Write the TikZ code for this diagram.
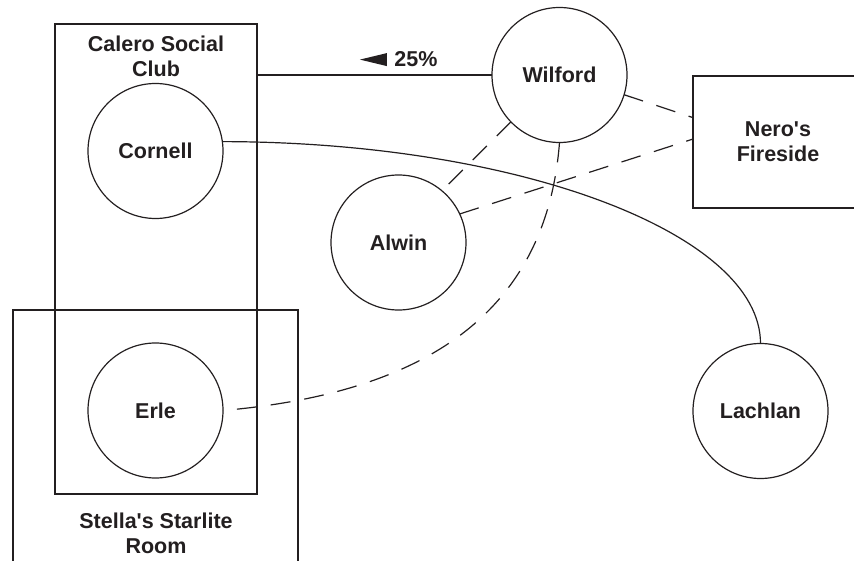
\documentclass[tikz,border=0pt]{standalone}
\usepackage{fontspec}
\setmainfont{Liberation Sans}
\usepackage{tikz}
\usetikzlibrary{positioning}
\definecolor{ink}{HTML}{231F20}

\tikzset{
  person/.style={circle, draw=ink, text=ink, minimum size=135pt, inner sep=0pt, outer sep=0pt},
  venue/.style={rectangle, draw=ink, text=ink, inner sep=0pt, outer sep=0pt, anchor=north west},
  venuename/.style={align=center, text=ink, inner sep=0pt},
  link/.style={draw=ink, dash pattern=on 20pt off 14pt}
}

\begin{document}
\begin{tikzpicture}[x=1pt, y=-1pt, line width=1.2pt, font=\fontsize{21.5}{25}\selectfont\bfseries]

\useasboundingbox (0,0) rectangle (854,561);
\clip (0,0) rectangle (854,561);

% rooms
\node at (55,24)[venue, minimum width=202pt, minimum height=470pt] (calero) {};
\node[venuename, below=11pt of calero.north] (caleroname) {Calero Social\\Club};
\node at (13,310)[venue, minimum width=285pt, minimum height=270pt] (stella) {};
\node[venuename, below=18pt of calero.south] (stellaname) {Stella\textquotesingle s Starlite\\Room};
\node at (693,76)[venue, minimum width=170pt, minimum height=132pt] (nero) {};
\node[venuename] at (nero.center) (neroname) {Nero\textquotesingle s\\Fireside};

% people
\node at (155.5,151)[person] (cornell) {Cornell};
\node at (155.5,410.5)[person] (erle) {Erle};
\node at (559.5,75)[person] (wilford) {Wilford};
\node at (398.5,242.5)[person] (alwin) {Alwin};
\node at (760.5,411)[person] (lachlan) {Lachlan};

% solid links
\draw[ink] (wilford.west -| calero.east) -- (wilford.west);
\node at (416,67)[anchor=base, text=ink, inner sep=0pt] (pct) {25\%};
\fill[ink] ([xshift=-7pt]pct.west) -- ++(0,-6.5) -- ++(-27,6.5) -- ++(27,6.5) -- cycle;
\draw[ink] (cornell.8) .. controls (520,142) and (760.5,234) .. (lachlan.north);

% dashed links
\draw[link] (wilford.-17) -- (nero.164);
\draw[link] (alwin.25) -- (nero.178);
\draw[link] (wilford.224) -- (alwin.50);
\draw[link] (wilford.south) .. controls (545,330) and (400,395) .. (erle.east);

\end{tikzpicture}
\end{document}
